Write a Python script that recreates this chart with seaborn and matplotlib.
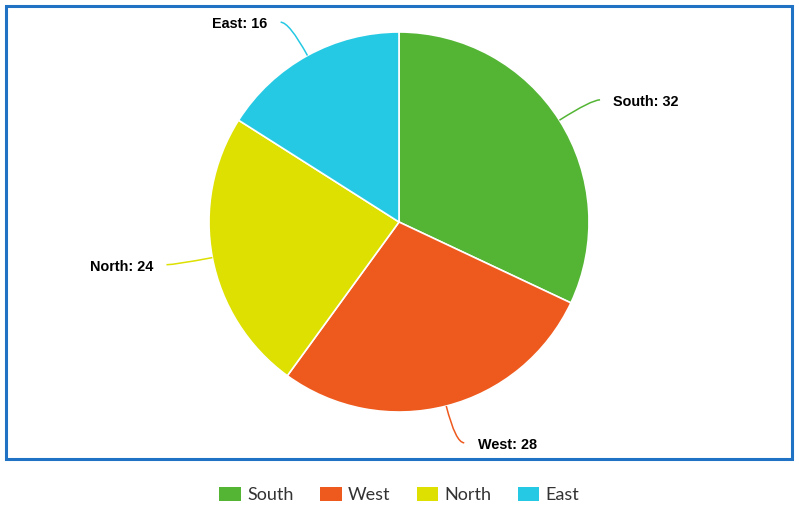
import numpy as np
import matplotlib
matplotlib.use("Agg")
import matplotlib.pyplot as plt
import seaborn as sns
from matplotlib.patches import Rectangle, Patch, PathPatch
from matplotlib.path import Path

regions = ["South", "West", "North", "East"]
values = [32, 28, 24, 16]
colors = ["#54b535", "#ee5a1e", "#dde000", "#26c9e3"]

sns.set_style("white")
plt.rcParams["font.family"] = ["Liberation Sans", "DejaVu Sans"]

fig = plt.figure(figsize=(7.99, 5.11), dpi=100)
ax = fig.add_axes([0, 0, 1, 1])

palette = sns.color_palette(colors)
wedges, _ = ax.pie(values, colors=palette, startangle=90, counterclock=False,
                   radius=1.0, wedgeprops=dict(edgecolor="white", linewidth=1.2))

# scale: 190 px per data unit, pie centre at (399, 222) px from top-left
ppu = 190.0
ax.set_aspect("auto")
ax.set_xlim(-399 / ppu, (799 - 399) / ppu)
ax.set_ylim(-(511 - 222) / ppu, 222 / ppu)
ax.axis("off")

# curved leader lines + labels
for w, name, v, c in zip(wedges, regions, values, colors):
    mid = np.deg2rad((w.theta1 + w.theta2) / 2)
    cx, cy = np.cos(mid), np.sin(mid)
    side = 1 if cx >= 0 else -1
    p0 = (cx, cy)
    ctrl = (1.2 * cx, 1.2 * cy)
    p1 = (1.2 * cx + side * 0.045, 1.2 * cy)
    path = Path([p0, ctrl, p1], [Path.MOVETO, Path.CURVE3, Path.CURVE3])
    ax.add_patch(PathPatch(path, fill=False, edgecolor=c, linewidth=1.1))
    ax.text(p1[0] + side * 0.07, p1[1] - 0.012, f"{name}: {v}",
            ha="left" if side > 0 else "right", va="center",
            fontsize=10.4, fontweight="bold", color="black")

# blue frame around the plot area
fig.patches.append(Rectangle((6 / 799, 1 - 459 / 511), 786 / 799, 453 / 511,
                             transform=fig.transFigure, fill=False,
                             edgecolor="#1f72c4", linewidth=2.2))

handles = [Patch(facecolor=c, edgecolor="none", label=r) for r, c in zip(regions, colors)]
leg = fig.legend(handles=handles, loc="center", bbox_to_anchor=(0.5, 1 - 495 / 511),
                 ncol=4, frameon=False, handlelength=1.2, handleheight=0.85,
                 handletextpad=0.35, columnspacing=1.45,
                 prop={"family": ["Lato", "DejaVu Sans"], "size": 13})
for t in leg.get_texts():
    t.set_color("#333333")

fig.savefig("out.png", dpi=100)
